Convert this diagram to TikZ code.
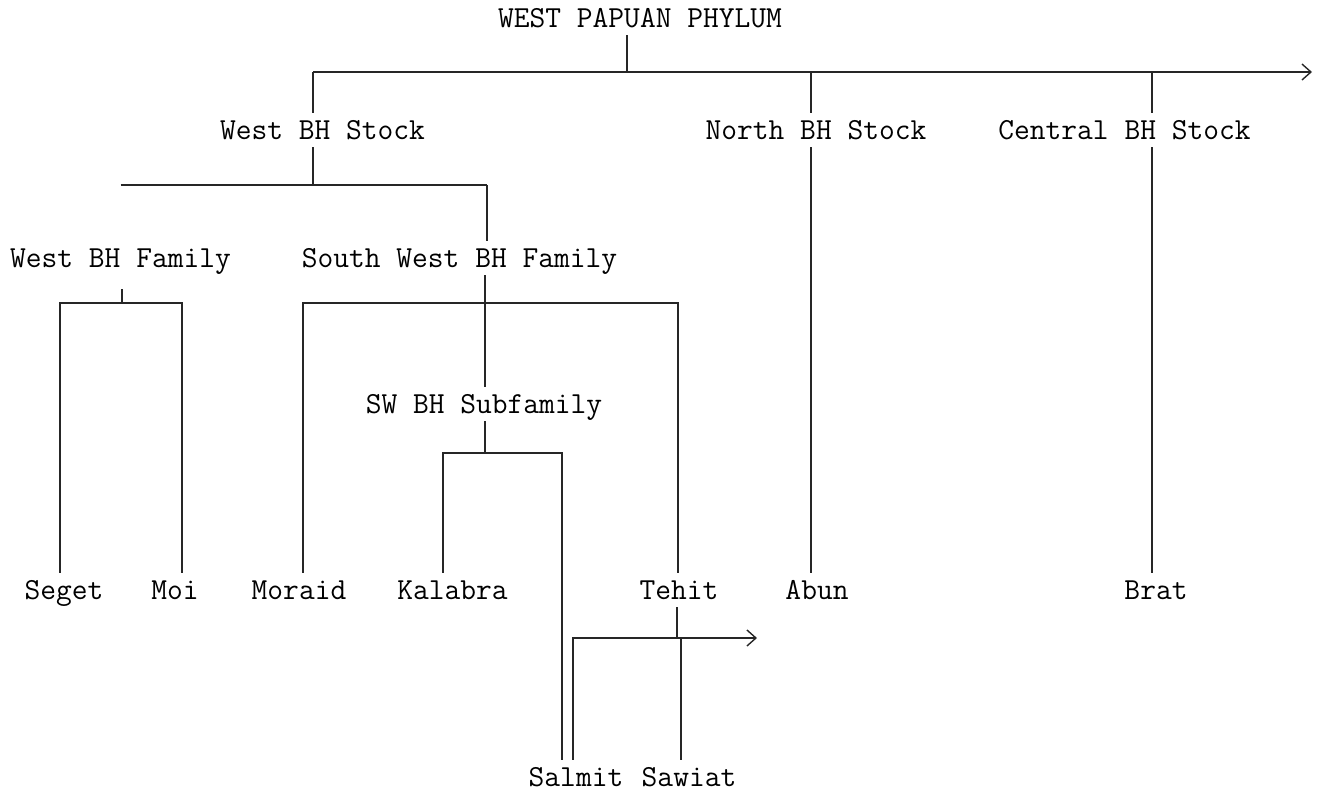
\documentclass[tikz,border=0pt]{standalone}
\usepackage{fontspec}
\usetikzlibrary{arrows.meta}
\begin{document}
\begin{tikzpicture}[x=1pt,y=-1pt,
  lbl/.style={font=\ttfamily\fontsize{30.6}{30.6}\selectfont, inner sep=0pt, text height=18.5pt, text depth=0pt, minimum height=34pt},
  edge/.style={line width=1.4pt, draw=black!85},
  arr/.style={edge, -{Straight Barb[length=9pt,width=16pt,line width=1.4pt]}}]
\useasboundingbox (0,0) rectangle (1324,793);
% labels
\node[lbl] (wpp) at (640,18) {WEST PAPUAN PHYLUM};
\node[lbl] (wbs) at (322.5,130) {West BH Stock};
\node[lbl] (nbs) at (816,130) {North BH Stock};
\node[lbl] (cbs) at (1124.5,130) {Central BH Stock};
\node[lbl] (wbf) at (120.5,258) {West BH Family};
\node[lbl] (swbf) at (459.5,258) {South West BH Family};
\node[lbl] (sbf) at (484,404) {SW BH Subfamily};
\node[lbl] (seget) at (64,590) {Seget};
\node[lbl] (moi) at (175,590) {Moi};
\node[lbl] (moraid) at (299,590) {Moraid};
\node[lbl] (kalabra) at (452.5,590) {Kalabra};
\node[lbl] (tehit) at (679,590) {Tehit};
\node[lbl] (abun) at (817,590) {Abun};
\node[lbl] (brat) at (1156,590) {Brat};
\node[lbl] (salmit) at (576,777) {Salmit};
\node[lbl] (sawiat) at (689,777) {Sawiat};
% junctions
\coordinate (r) at (627,72);
\coordinate (ws) at (313,72);
\coordinate (ns) at (811,72);
\coordinate (cs) at (1152,72);
\coordinate (topend) at (1312,72);
\coordinate (j1) at (313,185);
\coordinate (j1r) at (487,185);
\coordinate (j2) at (122,303);
\coordinate (sg) at (60,303);
\coordinate (mo) at (182,303);
\coordinate (j3) at (485,303);
\coordinate (mr) at (303,303);
\coordinate (th) at (678,303);
\coordinate (j4) at (485,453);
\coordinate (kb) at (443,453);
\coordinate (sm) at (562,453);
\coordinate (a0) at (573,638);
\coordinate (tj) at (677,638);
\coordinate (sj) at (681,638);
\coordinate (aend) at (757,638);
% connectors
\draw[edge] (wpp.south -| r) -- (r);
\draw[arr] (ws) -- (topend);
\draw[edge] (ws) -- (wbs.north -| ws);
\draw[edge] (ns) -- (nbs.north -| ns);
\draw[edge] (nbs.south -| ns) -- (abun.north -| ns);
\draw[edge] (cs) -- (cbs.north -| cs);
\draw[edge] (cbs.south -| cs) -- (brat.north -| cs);
\draw[edge] (wbs.south -| ws) -- (j1);
\draw[edge] (wbf.north |- j1) -- (j1r);
\draw[edge] (j1r) -- (swbf.north -| j1r);
\draw[edge, shorten <=14pt] (wbf.south -| j2) -- (j2);
\draw[edge] (seget.north -| sg) -- (sg) -- (mo) -- (moi.north -| mo);
\draw[edge] (swbf.south -| j3) -- (sbf.north -| j3);
\draw[edge] (moraid.north -| mr) -- (mr) -- (th) -- (tehit.north -| th);
\draw[edge] (sbf.south -| j4) -- (j4);
\draw[edge] (kalabra.north -| kb) -- (kb) -- (sm) -- (salmit.north -| sm);
\draw[arr] (salmit.north -| a0) -- (a0) -- (aend);
\draw[edge] (tehit.south -| tj) -- (tj);
\draw[edge] (sj) -- (sawiat.north -| sj);
\end{tikzpicture}
\end{document}
